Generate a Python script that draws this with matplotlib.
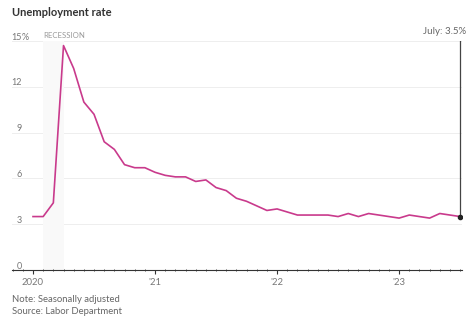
import matplotlib
matplotlib.use('Agg')
import matplotlib.pyplot as plt

plt.rcParams['font.family'] = ['Lato', 'DejaVu Sans']

# monthly unemployment rate, Jan 2020 .. Jul 2023
rate_2020 = [3.5, 3.5, 4.4, 14.7, 13.2, 11.0, 10.2, 8.4, 7.9, 6.9, 6.7, 6.7]
rate_2021 = [6.4, 6.2, 6.1, 6.1, 5.8, 5.9, 5.4, 5.2, 4.7, 4.5, 4.2, 3.9]
rate_2022 = [4.0, 3.8, 3.6, 3.6, 3.6, 3.6, 3.5, 3.7, 3.5, 3.7, 3.6, 3.5]
rate_2023 = [3.4, 3.6, 3.5, 3.4, 3.7, 3.6, 3.5]
rate = rate_2020 + rate_2021 + rate_2022 + rate_2023
months = list(range(len(rate)))

year_ticks = [0, 12, 24, 36]
year_labels = ['2020', "'21", "'22", "'23"]
y_ticks = [0, 3, 6, 9, 12]
recession = (1, 3)
last_label = 'July: 3.5%'

W, H = 469, 320
fig = plt.figure(figsize=(W / 100, H / 100), dpi=100)
ax = fig.add_axes([12 / W, 50 / H, 450 / W, 229 / H])

px = 10.17  # pixels per month
ax.set_xlim(-21 / px, 429 / px)
ax.set_ylim(0, 15)

# gridlines
for v in y_ticks[1:] + [15]:
    ax.axhline(v, color='#eeeeee', lw=0.7, zorder=0)

ax.axvspan(recession[0], recession[1], color='#f9f9f9', lw=0, zorder=0)
ax.text(recession[0], 15.33, 'RECESSION', fontsize=5.6, color='#999999',
        ha='left', va='center', clip_on=False)

ax.plot(months, rate, color='#c93a8c', lw=1.2, zorder=3)

# last point marker and leader line
ax.plot([months[-1], months[-1]], [rate[-1], 15], color='#444444', lw=0.9, zorder=4)
ax.plot(months[-1], rate[-1], 'o', color='#222222', ms=3, zorder=5)
ax.text(months[-1] + 0.6, 15.65, last_label, fontsize=7, color='#666666',
        ha='right', va='center', clip_on=False)

# y labels drawn by hand: number right aligned, % hanging for the top one
tr = ax.get_yaxis_transform()
lx = 10 / 450
for v in y_ticks:
    ax.text(lx, v + 0.26, str(v), transform=tr, fontsize=6.5, color='#777777',
            ha='right', va='center', clip_on=False)
ax.text(lx, 15.26, '15', transform=tr, fontsize=6.5, color='#777777',
        ha='right', va='center', clip_on=False)
ax.text(lx, 15.26, '%', transform=tr, fontsize=6.5, color='#777777',
        ha='left', va='center', clip_on=False)

for s in ['top', 'right', 'left']:
    ax.spines[s].set_visible(False)
ax.spines['bottom'].set_color('#333333')
ax.spines['bottom'].set_linewidth(0.8)

ax.set_yticks([])
ax.set_xticks(year_ticks)
ax.set_xticklabels(year_labels, fontsize=6.8, color='#777777')
ax.set_xticks(range(-2, 43), minor=True)
ax.tick_params(axis='x', which='major', length=3, width=0.8, color='#333333', pad=3)
ax.tick_params(axis='x', which='minor', length=1.5, width=0.6, color='#333333',
               direction='inout')

fig.text(12 / W, 1 - 13 / H, 'Unemployment rate', fontsize=8, fontweight='bold',
         color='#333333', ha='left', va='center')
fig.text(12 / W, 1 - 299 / H, 'Note: Seasonally adjusted', fontsize=6.8,
         color='#666666', ha='left', va='center')
fig.text(12 / W, 1 - 312 / H, 'Source: Labor Department', fontsize=6.8,
         color='#666666', ha='left', va='center')

fig.savefig('out.png', dpi=100)
